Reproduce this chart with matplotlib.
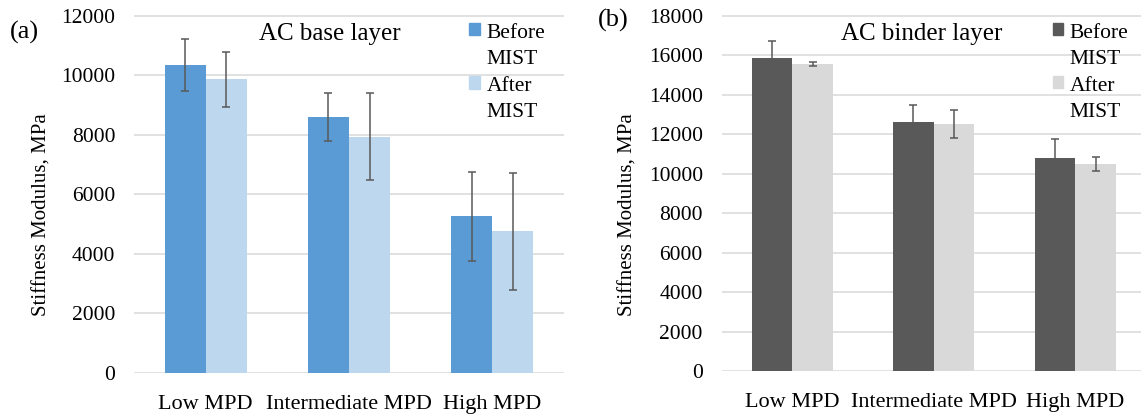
import numpy as np
import matplotlib.pyplot as plt
from matplotlib.patches import Patch

plt.rcParams['font.family'] = ['Liberation Serif', 'DejaVu Serif']

categories = ["Low MPD", "Intermediate MPD", "High MPD"]
series_labels = ["Before\nMIST", "After\nMIST"]

# (a) AC base layer
base_before = [10350, 8600, 5260]
base_before_err = [870, 800, 1500]
base_after = [9860, 7940, 4760]
base_after_err = [920, 1470, 1960]

# (b) AC binder layer
binder_before = [15840, 12610, 10770]
binder_before_err = [860, 870, 1000]
binder_after = [15560, 12510, 10500]
binder_after_err = [120, 730, 350]

W, H = 1141, 416


def draw_panel(ax, before, before_err, after, after_err, colors, ymax, title, title_x):
    x = np.arange(len(categories))
    width = 0.287
    ekw = dict(ecolor='#595959', elinewidth=1.1, capsize=3, capthick=1.1)
    ax.bar(x - width / 2, before, width, color=colors[0], yerr=before_err,
           error_kw=ekw, label=series_labels[0])
    ax.bar(x + width / 2, after, width, color=colors[1], yerr=after_err,
           error_kw=ekw, label=series_labels[1])

    ax.set_xlim(-0.5, 2.5)
    ax.set_ylim(0, ymax * 1.002)
    ax.set_yticks(np.arange(0, ymax + 1, 2000))
    ax.set_xticks(x)
    ax.set_xticklabels(categories, fontsize=16)
    ax.tick_params(axis='y', length=0, pad=13.5, labelsize=15.5)
    ax.tick_params(axis='x', length=0, pad=16)
    ax.yaxis.grid(True, color='#d9d9d9', lw=1.1)
    ax.set_axisbelow(True)
    for s in ax.spines.values():
        s.set_visible(False)

    ax.text(title_x, 0.93, title, transform=ax.transAxes, ha='center',
            va='baseline', fontsize=18)

    handles = [Patch(color=colors[0]), Patch(color=colors[1])]
    leg = ax.legend(handles, series_labels, loc='upper left',
                    bbox_to_anchor=(0.78, 0.976), frameon=False, fontsize=15.5,
                    handlelength=0.5, handleheight=0.5, handletextpad=0.3,
                    labelspacing=0.4, borderpad=0, borderaxespad=0)
    for t in leg.get_texts():
        t.set_linespacing(1.5)
    # put the colour square beside the first line of each label
    for p in leg.get_patches():
        p.set_y(p.get_y() + 12)
    return ax


fig = plt.figure(figsize=(W / 100, H / 100), dpi=100)

ax1 = fig.add_axes([134 / W, 1 - 373 / H, 430 / W, 358 / H])
draw_panel(ax1, base_before, base_before_err, base_after, base_after_err,
           ['#5b9bd5', '#bdd7ee'], 12000, "AC base layer", 0.455)

ax2 = fig.add_axes([721.6 / W, 1 - 371 / H, 424.4 / W, 356 / H])
draw_panel(ax2, binder_before, binder_before_err, binder_after, binder_after_err,
           ['#595959', '#d9d9d9'], 18000, "AC binder layer", 0.471)

fig.text(41.7 / W, 1 - 215 / H, "Stiffness Modulus, MPa", rotation=90,
         ha='center', va='center', fontsize=15)
fig.text(628 / W, 1 - 215 / H, "Stiffness Modulus, MPa", rotation=90,
         ha='center', va='center', fontsize=15)

fig.text(10 / W, 1 - 32.5 / H, "(a)", ha='left', va='center', fontsize=19)
fig.text(598 / W, 1 - 20 / H, "(b)", ha='left', va='center', fontsize=19)

fig.savefig("out.png", dpi=100)
